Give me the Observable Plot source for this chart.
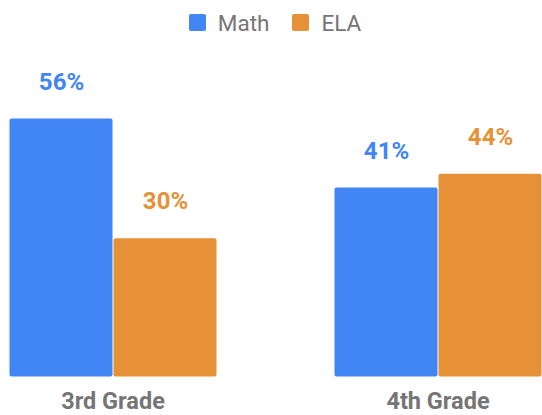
<!DOCTYPE html>
<html>
<head>
<meta charset="utf-8">
<script src="https://cdn.jsdelivr.net/npm/d3@7"></script>
<script src="https://cdn.jsdelivr.net/npm/@observablehq/plot@0.6"></script>
<style>
  html, body { margin: 0; padding: 0; background: #fff; }
  body { width: 542px; height: 415px; overflow: hidden; font-family: Roboto, "Noto Sans", sans-serif; }
  #legend { height: 45px; display: flex; justify-content: center; align-items: center; gap: 23px; padding-left: 8px; color: #757575; font-size: 22.5px; }
  #legend .item { display: flex; align-items: center; gap: 12px; }
  #legend .sw { width: 17px; height: 17px; border-radius: 2px; display: inline-block; }
  #chart svg { display: block; overflow: visible; }
</style>
</head>
<body>
<div id="legend"></div>
<div id="chart"></div>
<script>
const grades = ["3rd Grade", "4th Grade"];
const subjects = ["Math", "ELA"];
const mathValues = [56, 41];
const elaValues = [30, 44];
const colors = ["#4285F4", "#E69138"];

const data = grades.flatMap((g, i) => [
  {grade: g, subject: "Math", value: mathValues[i]},
  {grade: g, subject: "ELA", value: elaValues[i]}
]);

const legend = document.getElementById("legend");
subjects.forEach((s, i) => {
  const item = document.createElement("div");
  item.className = "item";
  const sw = document.createElement("span");
  sw.className = "sw";
  sw.style.background = colors[i];
  const t = document.createElement("span");
  t.textContent = s;
  item.appendChild(sw);
  item.appendChild(t);
  legend.appendChild(item);
});

const chart = Plot.plot({
  width: 542,
  height: 370,
  marginLeft: 8,
  marginRight: 0,
  marginTop: 55,
  marginBottom: 38.5,
  style: {fontFamily: "Roboto, sans-serif", fontSize: "23.5px", fontWeight: "bold", color: "#757575", background: "#fff", overflow: "visible"},
  fx: {domain: grades, paddingInner: 0.357, paddingOuter: 0, label: null, tickSize: 0, tickPadding: 15},
  x: {domain: subjects, axis: null, padding: 0},
  y: {domain: [0, 60], axis: null},
  color: {domain: subjects, range: colors},
  marks: [
    Plot.barY(data, {fx: "grade", x: "subject", y: "value", fill: "subject", insetLeft: 0.5, insetRight: 0.5, rx: 2}),
    Plot.text(data, {fx: "grade", x: "subject", y: "value", text: d => d.value + "%", fill: "subject", dy: -37, fontSize: 24, fontWeight: "bold"})
  ]
});
document.getElementById("chart").appendChild(chart);
</script>
</body>
</html>
